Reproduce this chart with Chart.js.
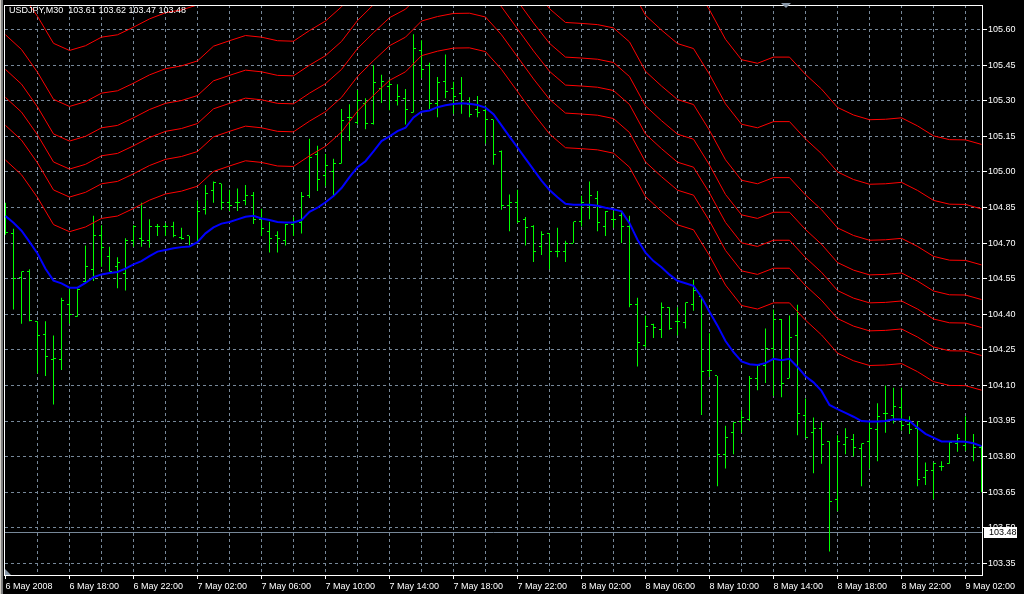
<!DOCTYPE html>
<html>
<head>
<meta charset="utf-8">
<title>USDJPY,M30</title>
<style>
    html, body { margin: 0; padding: 0; background: #000; overflow: hidden; }
    canvas { display: block; }
</style>
</head>
<body>
<canvas id="chart" width="1024" height="594" style="width:1024px;height:594px"></canvas>
<script src="https://cdn.jsdelivr.net/npm/chart.js@4.4.0/dist/chart.umd.min.js"></script>
<script>
// ============================================
// DATA (bar 0 = 6 May 14:00)
// ============================================

const CHART_TITLE = 'USDJPY,M30  103.61 103.62 103.47 103.48';

// one label every 8 bars (4 hours)
const timeLabels = [
    '6 May 2008', '6 May 18:00', '6 May 22:00', '7 May 02:00',
    '7 May 06:00', '7 May 10:00', '7 May 14:00', '7 May 18:00',
    '7 May 22:00', '8 May 02:00', '8 May 06:00', '8 May 10:00',
    '8 May 14:00', '8 May 18:00', '8 May 22:00', '9 May 02:00',
];

const priceTicks = [
    103.35, 103.50, 103.65, 103.80, 103.95, 104.10, 104.25, 104.40,
    104.55, 104.70, 104.85, 105.00, 105.15, 105.30, 105.45, 105.60,
];

const bidPrice = 103.48;

const opens = [
    104.80, 104.74, 104.555, 104.58, 104.37, 104.315, 104.21, 104.21, 104.44, 104.39,
    104.54, 104.59, 104.73, 104.645, 104.60, 104.57, 104.71, 104.72, 104.71, 104.77,
    104.77, 104.77, 104.725, 104.73, 104.70, 104.84, 104.92, 104.95, 104.87, 104.87,
    104.88, 104.90, 104.80, 104.75, 104.73, 104.71, 104.78, 104.785, 104.90, 105.075,
    104.985, 105.00, 105.035, 105.23, 105.21, 105.29, 105.205, 105.35, 105.36, 105.30,
    105.31, 105.25, 105.51, 105.45, 105.29, 105.38, 105.35, 105.33, 105.285, 105.265,
    105.26, 105.22, 105.085, 104.86, 104.87, 104.80, 104.77, 104.685, 104.74, 104.665,
    104.665, 104.70, 104.79, 104.86, 104.89, 104.77, 104.80, 104.815, 104.77, 104.44,
    104.27, 104.355, 104.335, 104.43, 104.37, 104.365, 104.44, 104.475, 104.165, 104.14,
    103.81, 103.90, 103.95, 103.955, 104.13, 104.185, 104.255, 104.38, 104.13, 104.31,
    103.975, 103.90, 103.92, 103.865, 103.62, 103.85, 103.87, 103.835, 103.865, 103.915,
    103.98, 103.975, 104.005, 103.935, 103.92, 103.71, 103.74, 103.76, 103.77, 103.855,
    103.845, 103.855, 103.84,
];

const highs = [
    104.87, 104.76, 104.58, 104.59, 104.37, 104.37, 104.31, 104.47, 104.51, 104.51,
    104.69, 104.815, 104.775, 104.685, 104.64, 104.72, 104.775, 104.87, 104.80, 104.78,
    104.785, 104.79, 104.765, 104.73, 104.88, 104.945, 104.96, 104.95, 104.925, 104.93,
    104.945, 104.915, 104.845, 104.79, 104.75, 104.78, 104.81, 104.915, 105.14, 105.11,
    105.075, 105.055, 105.265, 105.285, 105.345, 105.31, 105.45, 105.41, 105.39, 105.37,
    105.35, 105.58, 105.555, 105.46, 105.40, 105.495, 105.38, 105.40, 105.315, 105.32,
    105.28, 105.22, 105.09, 104.905, 104.925, 104.81, 104.775, 104.75, 104.74, 104.765,
    104.71, 104.79, 104.90, 104.96, 104.92, 104.835, 104.835, 104.83, 104.815, 104.47,
    104.395, 104.36, 104.45, 104.43, 104.43, 104.45, 104.545, 104.475, 104.32, 104.14,
    103.93, 103.945, 103.995, 104.14, 104.185, 104.34, 104.42, 104.38, 104.395, 104.44,
    104.045, 103.965, 103.945, 103.865, 103.89, 103.92, 103.895, 103.855, 103.95, 104.025,
    104.10, 104.09, 104.09, 103.97, 103.95, 103.775, 103.775, 103.78, 103.865, 103.895,
    103.97, 103.895, 103.845,
];

const lows = [
    104.735, 104.42, 104.36, 104.37, 104.15, 104.14, 104.02, 104.165, 104.36, 104.39,
    104.535, 104.54, 104.60, 104.58, 104.51, 104.50, 104.685, 104.685, 104.68, 104.73,
    104.73, 104.725, 104.715, 104.69, 104.70, 104.82, 104.87, 104.84, 104.835, 104.835,
    104.86, 104.78, 104.73, 104.66, 104.66, 104.69, 104.73, 104.74, 104.89, 104.92,
    104.94, 104.90, 105.035, 105.13, 105.20, 105.18, 105.20, 105.29, 105.26, 105.28,
    105.20, 105.25, 105.395, 105.265, 105.23, 105.31, 105.245, 105.245, 105.23, 105.23,
    105.12, 105.03, 104.84, 104.75, 104.785, 104.69, 104.62, 104.65, 104.59, 104.64,
    104.62, 104.70, 104.77, 104.80, 104.75, 104.73, 104.765, 104.70, 104.43, 104.18,
    104.26, 104.30, 104.30, 104.335, 104.31, 104.34, 104.415, 103.975, 104.135, 103.675,
    103.75, 103.81, 103.90, 103.95, 104.08, 104.11, 104.055, 104.05, 104.13, 103.89,
    103.88, 103.73, 103.77, 103.40, 103.57, 103.81, 103.80, 103.675, 103.75, 103.78,
    103.90, 103.94, 103.91, 103.895, 103.675, 103.68, 103.62, 103.74, 103.77, 103.82,
    103.825, 103.78, 103.65,
];

const closes = [
    104.745, 104.55, 104.58, 104.375, 104.31, 104.22, 104.215, 104.46, 104.40, 104.505,
    104.60, 104.73, 104.68, 104.58, 104.62, 104.71, 104.77, 104.71, 104.77, 104.77,
    104.77, 104.73, 104.72, 104.69, 104.835, 104.91, 104.955, 104.87, 104.86, 104.87,
    104.90, 104.80, 104.76, 104.72, 104.72, 104.78, 104.79, 104.895, 105.06, 104.97,
    105.025, 105.035, 105.215, 105.23, 105.30, 105.205, 105.375, 105.38, 105.37, 105.32,
    105.265, 105.52, 105.43, 105.29, 105.375, 105.34, 105.32, 105.29, 105.24, 105.25,
    105.22, 105.075, 104.86, 104.87, 104.79, 104.765, 104.665, 104.735, 104.665, 104.665,
    104.70, 104.79, 104.87, 104.90, 104.785, 104.835, 104.80, 104.77, 104.44, 104.28,
    104.35, 104.345, 104.43, 104.34, 104.37, 104.45, 104.50, 104.16, 104.165, 103.81,
    103.88, 103.945, 103.965, 104.13, 104.185, 104.255, 104.38, 104.11, 104.30, 103.98,
    103.88, 103.92, 103.85, 103.61, 103.865, 103.88, 103.84, 103.855, 103.92, 103.97,
    103.98, 104.01, 103.93, 103.915, 103.705, 103.74, 103.77, 103.76, 103.86, 103.875,
    103.86, 103.84, 103.65,
];

// blue moving average, one value per bar
const maLine = [
    104.814, 104.786, 104.752, 104.705, 104.656, 104.592, 104.542, 104.530, 104.512, 104.512,
    104.532, 104.556, 104.568, 104.574, 104.578, 104.592, 104.610, 104.624, 104.645, 104.664,
    104.671, 104.678, 104.683, 104.686, 104.704, 104.741, 104.766, 104.782, 104.789, 104.800,
    104.811, 104.815, 104.804, 104.797, 104.789, 104.787, 104.787, 104.797, 104.832, 104.849,
    104.872, 104.898, 104.932, 104.978, 105.020, 105.045, 105.087, 105.130, 105.150, 105.172,
    105.186, 105.230, 105.254, 105.259, 105.273, 105.281, 105.286, 105.289, 105.287, 105.282,
    105.271, 105.243, 105.196, 105.149, 105.103, 105.056, 105.010, 104.963, 104.924, 104.893,
    104.866, 104.862, 104.862, 104.862, 104.857, 104.849, 104.843, 104.834, 104.784, 104.714,
    104.660, 104.624, 104.598, 104.567, 104.541, 104.531, 104.520, 104.473, 104.411, 104.352,
    104.287, 104.240, 104.201, 104.189, 104.186, 104.194, 104.212, 104.206, 104.212, 104.178,
    104.139, 104.113, 104.077, 104.018, 104.000, 103.984, 103.968, 103.950, 103.948, 103.948,
    103.950, 103.957, 103.956, 103.950, 103.922, 103.896, 103.880, 103.864, 103.864, 103.864,
    103.863, 103.856, 103.844,
];

// red fibo envelope lines, read every second bar (bars 0, 2, 4 ... 122)
const fibo0236 = [
    105.050, 104.988, 104.892, 104.778, 104.748, 104.768, 104.804, 104.814, 104.846, 104.881,
    104.907, 104.919, 104.940, 105.002, 105.025, 105.047, 105.040, 105.025, 105.023, 105.068,
    105.108, 105.168, 105.256, 105.323, 105.386, 105.422, 105.490, 105.509, 105.522, 105.523,
    105.507, 105.432, 105.339, 105.246, 105.160, 105.102, 105.098, 105.093, 105.079, 105.020,
    104.896, 104.834, 104.777, 104.756, 104.647, 104.523, 104.437, 104.422, 104.448, 104.448,
    104.375, 104.313, 104.236, 104.204, 104.184, 104.186, 104.192, 104.158, 104.116, 104.100,
    104.099, 104.080,
];
const fibo0382 = [
    105.196, 105.134, 105.038, 104.924, 104.894, 104.914, 104.950, 104.960, 104.992, 105.027,
    105.053, 105.065, 105.086, 105.148, 105.171, 105.193, 105.186, 105.171, 105.169, 105.214,
    105.254, 105.314, 105.402, 105.469, 105.532, 105.568, 105.636, 105.655, 105.668, 105.669,
    105.653, 105.578, 105.485, 105.392, 105.306, 105.248, 105.244, 105.239, 105.225, 105.166,
    105.042, 104.980, 104.923, 104.902, 104.793, 104.669, 104.583, 104.568, 104.594, 104.594,
    104.521, 104.459, 104.382, 104.350, 104.330, 104.332, 104.338, 104.304, 104.262, 104.246,
    104.245, 104.226,
];
const fibo0500 = [
    105.314, 105.252, 105.156, 105.042, 105.012, 105.032, 105.068, 105.078, 105.110, 105.145,
    105.171, 105.183, 105.204, 105.266, 105.289, 105.311, 105.304, 105.289, 105.287, 105.332,
    105.372, 105.432, 105.520, 105.587, 105.650, 105.686, 105.754, 105.773, 105.786, 105.787,
    105.771, 105.696, 105.603, 105.510, 105.424, 105.366, 105.362, 105.357, 105.343, 105.284,
    105.160, 105.098, 105.041, 105.020, 104.911, 104.787, 104.701, 104.686, 104.712, 104.712,
    104.639, 104.577, 104.500, 104.468, 104.448, 104.450, 104.456, 104.422, 104.380, 104.364,
    104.363, 104.344,
];
const fibo0618 = [
    105.432, 105.370, 105.274, 105.160, 105.130, 105.150, 105.186, 105.196, 105.228, 105.263,
    105.289, 105.301, 105.322, 105.384, 105.407, 105.429, 105.422, 105.407, 105.405, 105.450,
    105.490, 105.550, 105.638, 105.705, 105.768, 105.804, 105.872, 105.891, 105.904, 105.905,
    105.889, 105.814, 105.721, 105.628, 105.542, 105.484, 105.480, 105.475, 105.461, 105.402,
    105.278, 105.216, 105.159, 105.138, 105.029, 104.905, 104.819, 104.804, 104.830, 104.830,
    104.757, 104.695, 104.618, 104.586, 104.566, 104.568, 104.574, 104.540, 104.498, 104.482,
    104.481, 104.462,
];
const fibo0764 = [
    105.578, 105.516, 105.420, 105.306, 105.276, 105.296, 105.332, 105.342, 105.374, 105.409,
    105.435, 105.447, 105.468, 105.530, 105.553, 105.575, 105.568, 105.553, 105.551, 105.596,
    105.636, 105.696, 105.784, 105.851, 105.914, 105.950, 106.018, 106.037, 106.050, 106.051,
    106.035, 105.960, 105.867, 105.774, 105.688, 105.630, 105.626, 105.621, 105.607, 105.548,
    105.424, 105.362, 105.305, 105.284, 105.175, 105.051, 104.965, 104.950, 104.976, 104.976,
    104.903, 104.841, 104.764, 104.732, 104.712, 104.714, 104.720, 104.686, 104.644, 104.628,
    104.627, 104.608,
];
const fibo1000 = [
    105.814, 105.752, 105.656, 105.542, 105.512, 105.532, 105.568, 105.578, 105.610, 105.645,
    105.671, 105.683, 105.704, 105.766, 105.789, 105.811, 105.804, 105.789, 105.787, 105.832,
    105.872, 105.932, 106.020, 106.087, 106.150, 106.186, 106.254, 106.273, 106.286, 106.287,
    106.271, 106.196, 106.103, 106.010, 105.924, 105.866, 105.862, 105.857, 105.843, 105.784,
    105.660, 105.598, 105.541, 105.520, 105.411, 105.287, 105.201, 105.186, 105.212, 105.212,
    105.139, 105.077, 105.000, 104.968, 104.948, 104.950, 104.956, 104.922, 104.880, 104.864,
    104.863, 104.844,
];
const fibo1272 = [
    106.086, 106.024, 105.928, 105.814, 105.784, 105.804, 105.840, 105.850, 105.882, 105.917,
    105.943, 105.955, 105.976, 106.038, 106.061, 106.083, 106.076, 106.061, 106.059, 106.104,
    106.144, 106.204, 106.292, 106.359, 106.422, 106.458, 106.526, 106.545, 106.558, 106.559,
    106.543, 106.468, 106.375, 106.282, 106.196, 106.138, 106.134, 106.129, 106.115, 106.056,
    105.932, 105.870, 105.813, 105.792, 105.683, 105.559, 105.473, 105.458, 105.484, 105.484,
    105.411, 105.349, 105.272, 105.240, 105.220, 105.222, 105.228, 105.194, 105.152, 105.136,
    105.135, 105.116,
];

// ============================================
// STYLE
// ============================================

const BAR_COLOR = '#00ff00';
const MA_COLOR = '#0000ff';
const ENV_COLOR = '#ff0000';
const GRID_COLOR = '#778899';
const MARK_COLOR = '#8896a6';
const FONT = 'Liberation Sans, Arial, sans-serif';

// axis ranges (half a bar of room on the left, 8px per bar)
const X_MIN = -0.0625;
const X_MAX = 122.0625;
const Y_MIN = 103.3009;
const Y_MAX = 105.7036;

Chart.defaults.font.family = FONT;
Chart.defaults.font.size = 9;
Chart.defaults.color = '#ffffff';

const barIdx = opens.map((_, i) => i);
const gridBars = barIdx.filter(i => i % 4 === 0);
const fiboBars = barIdx.filter(i => i % 2 === 0);
const pts = (xs, ys) => xs.map((x, k) => ({ x, y: ys[k] }));

// open tick sits left of the bar, close tick right of it (5px wide image centred on the bar)
function tickImage(side) {
    const c = document.createElement('canvas');
    c.width = 5;
    c.height = 1;
    const g = c.getContext('2d');
    g.fillStyle = BAR_COLOR;
    g.fillRect(side === 'open' ? 0 : 3, 0, 2, 1);
    return c;
}

const fiboLines = [fibo1272, fibo1000, fibo0764, fibo0618, fibo0500, fibo0382, fibo0236];

const datasets = [
    {
        type: 'line',
        data: [{ x: X_MIN, y: bidPrice }, { x: X_MAX, y: bidPrice }],
        borderColor: GRID_COLOR,
        borderWidth: 1,
        pointRadius: 0,
        order: 6,
    },
    {
        type: 'bar',
        data: barIdx.map(i => ({ x: i, y: [lows[i], highs[i]] })),
        backgroundColor: BAR_COLOR,
        barThickness: 1,
        inflateAmount: 0,
        borderWidth: 0,
        order: 5,
    },
    {
        type: 'scatter',
        data: pts(barIdx, opens),
        pointStyle: tickImage('open'),
        pointRadius: 1,
        clip: 0,
        order: 4,
    },
    {
        type: 'scatter',
        data: pts(barIdx, closes),
        pointStyle: tickImage('close'),
        pointRadius: 1,
        clip: 0,
        order: 4,
    },
    ...fiboLines.map(vals => ({
        type: 'line',
        data: pts(fiboBars, vals),
        borderColor: ENV_COLOR,
        borderWidth: 1,
        pointRadius: 0,
        tension: 0,
        order: 2,
    })),
    {
        type: 'line',
        data: pts(barIdx, maLine),
        borderColor: MA_COLOR,
        borderWidth: 2,
        pointRadius: 0,
        tension: 0,
        order: 1,
    },
];

// ============================================
// TERMINAL DECORATIONS (frame, title, bid label, markers)
// ============================================

const terminalFrame = {
    id: 'terminalFrame',
    beforeDraw(chart) {
        const c = chart.ctx;
        c.save();
        c.fillStyle = '#000000';
        c.fillRect(0, 0, chart.width, chart.height);
        c.fillStyle = '#d4d0c8';
        c.fillRect(0, 0, 1, chart.height);
        c.fillStyle = '#808080';
        c.fillRect(1, 0, 2, chart.height);
        c.restore();
    },
    beforeDatasetsDraw(chart) {
        chart.ctx.imageSmoothingEnabled = false;
    },
    afterDatasetsDraw(chart) {
        chart.ctx.imageSmoothingEnabled = true;
    },
    afterDraw(chart) {
        const c = chart.ctx;
        const a = chart.chartArea;
        c.save();

        c.strokeStyle = '#ffffff';
        c.lineWidth = 1;
        c.strokeRect(a.left - 0.5, a.top + 0.5, a.right - a.left + 1, a.bottom - a.top);

        // chart shift marker at the top
        c.fillStyle = MARK_COLOR;
        c.beginPath();
        c.moveTo(781, 3);
        c.lineTo(791, 3);
        c.lineTo(786, 8);
        c.closePath();
        c.fill();

        // small corner marker bottom left
        c.beginPath();
        c.moveTo(a.left, a.bottom - 6);
        c.lineTo(a.left, a.bottom);
        c.lineTo(a.left + 6, a.bottom);
        c.closePath();
        c.fill();

        c.font = '9px ' + FONT;
        c.fillStyle = '#ffffff';
        c.textBaseline = 'alphabetic';
        c.textAlign = 'left';
        c.fillText(CHART_TITLE, 9, 13);

        const yBid = chart.scales.y.getPixelForValue(bidPrice);
        c.fillStyle = '#ffffff';
        c.fillRect(a.right + 2, Math.round(yBid) - 6, 33, 11);
        c.fillStyle = '#000000';
        c.textBaseline = 'middle';
        c.fillText(bidPrice.toFixed(2), a.right + 7, yBid);

        c.restore();
    },
};

new Chart(document.getElementById('chart'), {
    type: 'scatter',
    data: { datasets },
    options: {
        responsive: false,
        animation: false,
        devicePixelRatio: 1,
        events: [],
        layout: { padding: { left: 5, top: 2, right: 0, bottom: 0 } },
        plugins: {
            legend: { display: false },
            tooltip: { enabled: false },
        },
        scales: {
            x: {
                type: 'linear',
                min: X_MIN,
                max: X_MAX,
                offset: false,
                afterBuildTicks: scale => { scale.ticks = gridBars.map(v => ({ value: v })); },
                afterFit: scale => {
                    scale.height = 19;
                    scale.paddingLeft = 0;
                    scale.paddingRight = 0;
                },
                grid: {
                    offset: false,
                    color: ctx => (ctx.tick && ctx.tick.value === 0) ? 'rgba(0,0,0,0)' : GRID_COLOR,
                    tickColor: ctx => (ctx.tick && ctx.tick.value % 8 === 0) ? '#ffffff' : 'rgba(0,0,0,0)',
                    tickLength: 4,
                    lineWidth: 1,
                },
                border: { display: false, dash: [3, 3] },
                ticks: {
                    autoSkip: false,
                    maxRotation: 0,
                    minRotation: 0,
                    align: 'start',
                    padding: 2,
                    color: '#ffffff',
                    callback: v => (v % 8 === 0 ? timeLabels[v / 8] : ''),
                },
            },
            y: {
                type: 'linear',
                position: 'right',
                min: Y_MIN,
                max: Y_MAX,
                afterBuildTicks: scale => { scale.ticks = priceTicks.map(v => ({ value: v })); },
                afterFit: scale => {
                    scale.width = 42;
                    scale.paddingTop = 0;
                    scale.paddingBottom = 0;
                },
                grid: {
                    color: GRID_COLOR,
                    tickColor: '#ffffff',
                    tickLength: 5,
                    lineWidth: 1,
                },
                border: { display: false, dash: [3, 3] },
                ticks: {
                    autoSkip: false,
                    padding: 1,
                    color: '#ffffff',
                    callback: v => v.toFixed(2),
                },
            },
        },
    },
    plugins: [terminalFrame],
});
</script>
</body>
</html>
